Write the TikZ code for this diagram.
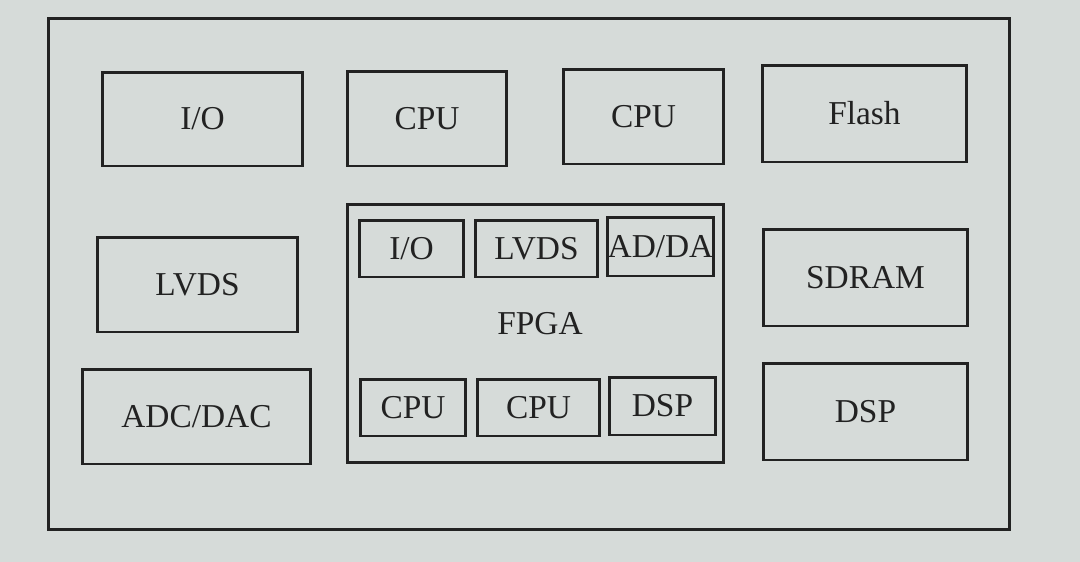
\documentclass[tikz,border=0pt]{standalone}
\usepackage{fontspec}
\setmainfont{Liberation Serif}
\usetikzlibrary{calc}
\definecolor{PaperGrey}{RGB}{214,219,217}
\definecolor{InkGrey}{RGB}{34,34,34}
\tikzset{%
	% Style of a block
	Block/.style={draw=InkGrey,line width=1.7pt,inner sep=0,fill=none},
	% Style of the block label
	BlockName/.style={font=\fontsize{19}{22}\selectfont,text=InkGrey},
}
\begin{document}
\begin{tikzpicture}[x=0.02cm,y=-0.02cm] % STYLES

\fill[PaperGrey] (0,0) rectangle (1080,562);
\useasboundingbox (0,0) rectangle (1080,562);

%~~~~~~~~~~~~~~~~~~~~~~~~~~~~~~~~~~~~~~~~~~~~~~~~~~
% Board
%~~~~~~~~~~~~~~~~~~~~~~~~~~~~~~~~~~~~~~~~~~~~~~~~~~
\node[Block, minimum width=19.24cm, minimum height=10.24cm] (Board) at (529, 274) {};

%~~~~~~~~~~~~~~~~~~~~~~~~~~~~~~~~~~~~~~~~~~~~~~~~~~
% Outer blocks
%~~~~~~~~~~~~~~~~~~~~~~~~~~~~~~~~~~~~~~~~~~~~~~~~~~
\node[Block, BlockName, minimum width=4.02cm, minimum height=1.88cm] (IO) at (202.5, 119) {I/O};
\node[Block, BlockName, minimum width=3.2cm, minimum height=1.9cm] (CPU1) at (427, 118.5) {CPU};
\node[Block, BlockName, minimum width=3.22cm, minimum height=1.9cm] (CPU2) at (643.5, 116.5) {CPU};
\node[Block, BlockName, minimum width=4.1cm, minimum height=1.94cm] (Flash) at (864.5, 113.5) {Flash};

\node[Block, BlockName, minimum width=4.02cm, minimum height=1.9cm] (LVDS) at (197.5, 284.5) {LVDS};
\node[Block, BlockName, minimum width=4.58cm, minimum height=1.9cm] (ADC) at (196.5, 416.5) {ADC/DAC};

\node[Block, BlockName, minimum width=4.1cm, minimum height=1.94cm] (SDRAM) at (865.5, 277.5) {SDRAM};
\node[Block, BlockName, minimum width=4.1cm, minimum height=1.94cm] (DSP) at (865.5, 411.5) {DSP};

%~~~~~~~~~~~~~~~~~~~~~~~~~~~~~~~~~~~~~~~~~~~~~~~~~~
% FPGA and its blocks
%~~~~~~~~~~~~~~~~~~~~~~~~~~~~~~~~~~~~~~~~~~~~~~~~~~
\node[Block, minimum width=7.54cm, minimum height=5.18cm] (FPGA) at (535.5, 333.5) {};
\node[BlockName] at ($ (FPGA) + (4.5, -10) $) {FPGA};

\node[Block, BlockName, minimum width=2.1cm, minimum height=1.14cm] (F_IO) at (411.5, 248.5) {I/O};
\node[Block, BlockName, minimum width=2.46cm, minimum height=1.14cm] (F_LVDS) at (536.5, 248.5) {LVDS};
\node[Block, BlockName, minimum width=2.14cm, minimum height=1.18cm] (F_ADDA) at (660.5, 246.5) {AD/DA};

\node[Block, BlockName, minimum width=2.12cm, minimum height=1.14cm] (F_CPU1) at (413, 407.5) {CPU};
\node[Block, BlockName, minimum width=2.46cm, minimum height=1.14cm] (F_CPU2) at (538.5, 407.5) {CPU};
\node[Block, BlockName, minimum width=2.14cm, minimum height=1.16cm] (F_DSP) at (662.5, 406) {DSP};

\end{tikzpicture}
\end{document}
